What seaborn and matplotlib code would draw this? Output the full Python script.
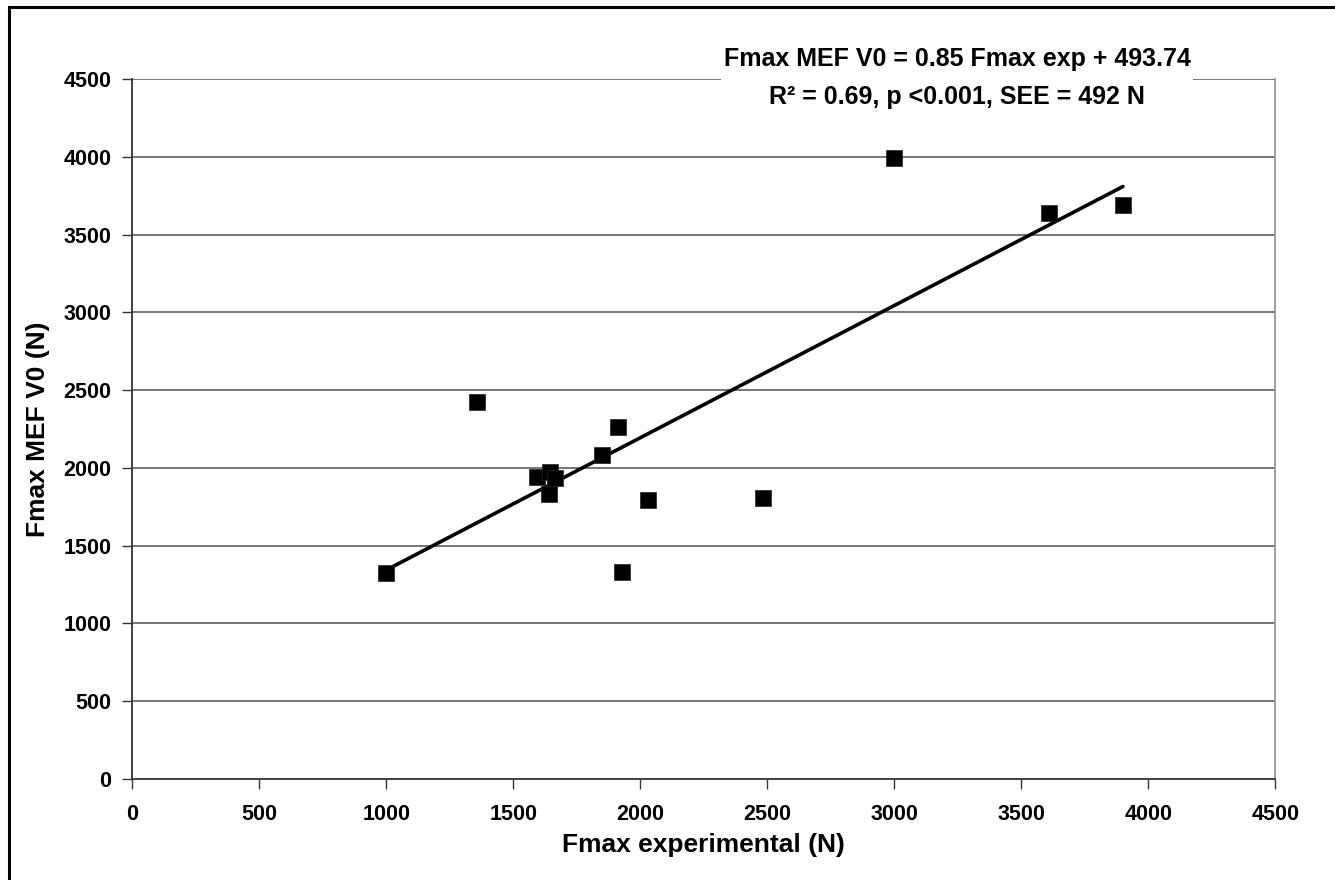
import numpy as np
import pandas as pd
import matplotlib
matplotlib.use("Agg")
import matplotlib.pyplot as plt
import seaborn as sns
from matplotlib.patches import Rectangle

# Data
fmax_exp = [1000, 1357, 1592, 1644, 1664, 1642, 1848, 1913, 1927, 2031, 2484, 3000, 3610, 3900]
fmax_mef = [1322, 2422, 1943, 1975, 1933, 1830, 2083, 2261, 1333, 1794, 1804, 3990, 3640, 3690]

# Regression reported on the chart
SLOPE = 0.85
INTERCEPT = 493.74
EQUATION = "Fmax MEF V0 = 0.85 Fmax exp + 493.74"
STATS = "R\u00b2 = 0.69, p <0.001, SEE = 492 N"

TICKS = list(range(0, 4501, 500))


def main():
    df = pd.DataFrame({"exp": fmax_exp, "mef": fmax_mef})
    x_line = np.array([df["exp"].min(), df["exp"].max()])
    line_df = pd.DataFrame({"exp": x_line, "mef": SLOPE * x_line + INTERCEPT})

    sns.set_style("white")
    plt.rcParams["font.family"] = ["Liberation Sans", "DejaVu Sans"]
    plt.rcParams["font.weight"] = "bold"
    plt.rcParams["text.color"] = "black"
    plt.rcParams["axes.labelcolor"] = "black"

    fig = plt.figure(figsize=(13.35, 8.8), dpi=100)
    ax = fig.add_axes([132.3 / 1335, 1 - 779 / 880, 1143 / 1335, 700 / 880])

    # outer frame of the figure (only left/top visible in the reference)
    fig.patches.append(Rectangle((9 / 1335, -0.1), 1.2, 0.1 + 1 - 7.5 / 880,
                                 transform=fig.transFigure, fill=False,
                                 edgecolor="black", linewidth=2.2))

    for yv in TICKS[1:]:
        ax.axhline(yv, color="#505050", linewidth=1.1, zorder=1)

    sns.lineplot(data=line_df, x="exp", y="mef", ax=ax, color="black",
                 linewidth=2.6, zorder=3)
    sns.scatterplot(data=df, x="exp", y="mef", ax=ax, marker="s", s=145,
                    color="black", edgecolor="#222222", linewidth=0.5, zorder=4)

    ax.set_xlim(0, 4500)
    ax.set_ylim(0, 4500)
    ax.set_xticks(TICKS)
    ax.set_yticks(TICKS)
    ax.tick_params(axis="both", direction="out", length=7, width=1,
                   color="#333333", labelcolor="black", labelsize=15.5,
                   bottom=True, left=True)
    ax.tick_params(axis="x", pad=11)
    ax.tick_params(axis="y", pad=8)
    for lab in ax.get_xticklabels() + ax.get_yticklabels():
        lab.set_fontweight("bold")

    ax.spines["top"].set_visible(False)
    ax.spines["left"].set_color("#333333")
    ax.spines["bottom"].set_color("#333333")
    ax.spines["right"].set_color("#999999")
    for side in ["left", "bottom", "right"]:
        ax.spines[side].set_linewidth(1.3)

    ax.set_xlabel("Fmax experimental (N)", fontsize=19, fontweight="bold", labelpad=6)
    ax.set_ylabel("Fmax MEF V0 (N)", fontsize=19, fontweight="bold", labelpad=10)

    fig.text(957 / 1335, 1 - 78 / 880, EQUATION + "\n" + STATS,
             ha="center", va="center", fontsize=18, fontweight="bold",
             linespacing=1.75,
             bbox=dict(facecolor="white", edgecolor="none", pad=2))

    fig.savefig("out.png", dpi=100)


if __name__ == "__main__":
    main()
